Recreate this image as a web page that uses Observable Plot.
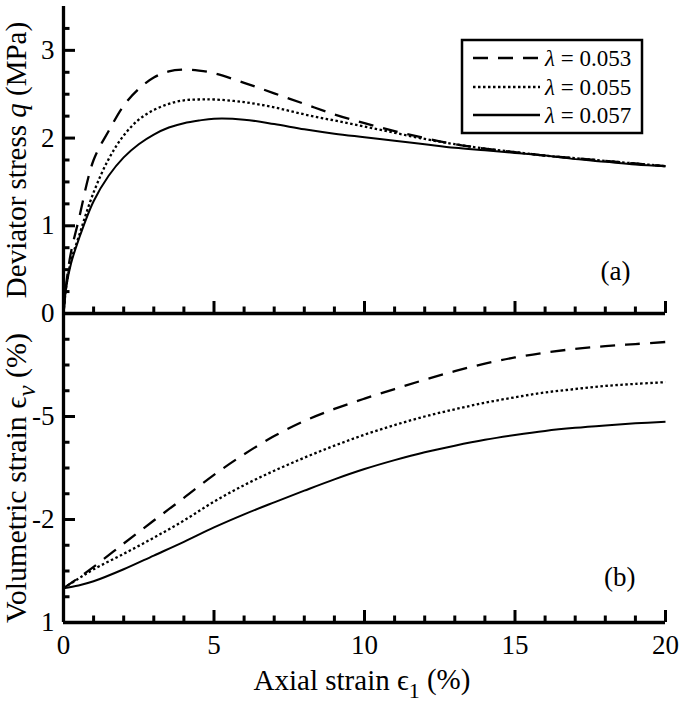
<!DOCTYPE html>
<html><head><meta charset="utf-8">
<script src="https://cdn.jsdelivr.net/npm/d3@7"></script>
<script src="https://cdn.jsdelivr.net/npm/@observablehq/plot@0.6"></script>
<style>
body{margin:0;background:#fff;}
#wrap{position:relative;width:685px;height:710px;font-family:"Liberation Serif","Times New Roman",serif;color:#000;}
#wrap svg{position:absolute;left:0;background:transparent;overflow:visible;}
</style></head><body><div id="wrap"></div>
<script>
// ---------- data ----------
const seriesNames = ["λ = 0.053", "λ = 0.055", "λ = 0.057"];
const seriesLambda = ["0.053", "0.055", "0.057"];
const seriesDash = ["15,10", "2.5,2.5", null];

// (a) deviator stress q (MPa) vs axial strain (%)
const strainA = [0, 0.1, 0.25, 0.5, 1, 1.5, 2, 2.5, 3, 3.5, 4, 4.5, 5, 6, 7, 8, 9, 10, 11, 12, 13, 14, 15, 16, 17, 18, 19, 20];
const qL053 = [0, 0.36, 0.70, 1.06, 1.75, 2.08, 2.37, 2.56, 2.69, 2.76, 2.78, 2.77, 2.74, 2.63, 2.51, 2.39, 2.27, 2.17, 2.08, 2.00, 1.93, 1.88, 1.84, 1.80, 1.77, 1.74, 1.71, 1.68];
const qL055 = [0, 0.33, 0.60, 0.87, 1.38, 1.76, 2.03, 2.21, 2.32, 2.39, 2.43, 2.44, 2.44, 2.41, 2.35, 2.27, 2.20, 2.13, 2.06, 1.99, 1.93, 1.88, 1.84, 1.80, 1.77, 1.74, 1.71, 1.68];
const qL057 = [0, 0.32, 0.57, 0.84, 1.28, 1.57, 1.78, 1.93, 2.04, 2.12, 2.17, 2.20, 2.22, 2.21, 2.16, 2.10, 2.05, 2.01, 1.97, 1.93, 1.89, 1.86, 1.83, 1.80, 1.76, 1.73, 1.70, 1.68];

// (b) volumetric strain (%) vs axial strain (%)
const strainB = [0, 0.5, 1, 2, 3, 4, 5, 6, 7, 8, 9, 10, 11, 12, 13, 14, 15, 16, 17, 18, 19, 20];
const evL053 = [0, -0.30, -0.62, -1.30, -1.97, -2.63, -3.30, -3.90, -4.43, -4.87, -5.22, -5.52, -5.80, -6.07, -6.32, -6.54, -6.72, -6.86, -6.97, -7.05, -7.11, -7.17];
const evL055 = [0, -0.28, -0.55, -1.00, -1.47, -1.97, -2.52, -3.00, -3.42, -3.80, -4.15, -4.47, -4.75, -5.00, -5.21, -5.40, -5.56, -5.70, -5.80, -5.89, -5.95, -6.00];
const evL057 = [0, -0.08, -0.20, -0.55, -0.95, -1.35, -1.77, -2.15, -2.50, -2.84, -3.17, -3.47, -3.73, -3.96, -4.15, -4.32, -4.46, -4.58, -4.67, -4.74, -4.80, -4.85];

// ticks
const xMajor = [0, 5, 10, 15, 20];
const xMinor = [1, 2, 3, 4, 6, 7, 8, 9, 11, 12, 13, 14, 16, 17, 18, 19];
const qMajor = [0, 1, 2, 3];
const qMinor = [0.25, 0.5, 0.75, 1.25, 1.5, 1.75, 2.25, 2.5, 2.75, 3.25];
const evMajor = [1, -2, -5, -8];
const evLabels = [1, -2, -5];
const evMinor = [0.25, -0.5, -1.25, -2.75, -3.5, -4.25, -5.75, -6.5, -7.25];

// ---------- build tables ----------
const qSets = [qL053, qL055, qL057];
const evSets = [evL053, evL055, evL057];
const tableA = seriesNames.map((s, i) => strainA.map((x, j) => ({x, y: qSets[i][j], s})));
const tableB = seriesNames.map((s, i) => strainB.map((x, j) => ({x, y: evSets[i][j], s})));

const FONT = "'Liberation Serif', 'Times New Roman', serif";
const W = 685, ML = 63, MR = 20;
const xDomain = [0, 20];
const pxPerX = (W - ML - MR) / 20;
const tickLenX = (p) => p / pxPerX;

function curveMarks(tables) {
  return tables.map((t, i) => Plot.line(t, {
    x: "x", y: "y", curve: "catmull-rom", stroke: "black",
    strokeWidth: i === 2 ? 2 : 2.3,
    strokeDasharray: seriesDash[i] || undefined,
    strokeLinecap: "butt"
  }));
}

// ---- top panel ----
const HA = 330, MTA = 6, MBA = 17;
const qDomain = [0, 3.5];
const pxPerQ = (HA - MTA - MBA) / (qDomain[1] - qDomain[0]);
const topSvg = Plot.plot({
  width: W, height: HA, marginLeft: ML, marginRight: MR, marginTop: MTA, marginBottom: MBA,
  style: {background: "transparent", overflow: "visible", fontFamily: FONT, color: "black"},
  x: {domain: xDomain, axis: null},
  y: {domain: qDomain},
  marks: [
    ...curveMarks(tableA),
    Plot.ruleY(qMajor, {y: d => d, x1: 0, x2: tickLenX(12), strokeWidth: 3}),
    Plot.ruleY(qMinor, {y: d => d, x1: 0, x2: tickLenX(6.5), strokeWidth: 3}),
    Plot.ruleX(xMajor, {x: d => d, y1: 0, y2: 12 / pxPerQ, strokeWidth: 3}),
    Plot.ruleX(xMinor, {x: d => d, y1: 0, y2: 6.5 / pxPerQ, strokeWidth: 3}),
    Plot.ruleX([0], {strokeWidth: 3.3}),
    Plot.ruleY([0], {strokeWidth: 3.3}),
    Plot.axisY({ticks: qMajor, tickSize: 0, tickPadding: 9, fontSize: 27, fontFamily: FONT, tickFormat: d => String(d), label: null}),
    Plot.text(["(a)"], {frameAnchor: "bottom-right", dx: -35, dy: -42, lineAnchor: "middle", textAnchor: "end", fontSize: 27, fontFamily: FONT})
  ]
});

// ---- bottom panel ----
const HB = 397, MTB = 0, MBB = 88;
const evDomain = [1, -8];
const pxPerEv = (HB - MTB - MBB) / 9;
const botSvg = Plot.plot({
  width: W, height: HB, marginLeft: ML, marginRight: MR, marginTop: MTB, marginBottom: MBB,
  style: {background: "transparent", overflow: "visible", fontFamily: FONT, color: "black"},
  x: {domain: xDomain},
  y: {domain: evDomain},
  marks: [
    ...curveMarks(tableB),
    Plot.ruleY(evMajor, {y: d => d, x1: 0, x2: tickLenX(12), strokeWidth: 3}),
    Plot.ruleY(evMinor, {y: d => d, x1: 0, x2: tickLenX(6.5), strokeWidth: 3}),
    Plot.ruleX(xMajor, {x: d => d, y1: 1, y2: 1 - 12 / pxPerEv, strokeWidth: 3}),
    Plot.ruleX(xMinor, {x: d => d, y1: 1, y2: 1 - 6.5 / pxPerEv, strokeWidth: 3}),
    Plot.ruleX([0], {strokeWidth: 3.3}),
    Plot.ruleY([1], {strokeWidth: 3.3}),
    Plot.axisY({ticks: evLabels, tickSize: 0, tickPadding: 9, fontSize: 27, fontFamily: FONT, tickFormat: d => String(d), label: null}),
    Plot.axisX({ticks: xMajor, tickSize: 0, tickPadding: 12, fontSize: 27, fontFamily: FONT, tickFormat: d => String(d), label: null}),
    Plot.text(["(b)"], {frameAnchor: "bottom-right", dx: -30, dy: -45, lineAnchor: "middle", textAnchor: "end", fontSize: 27, fontFamily: FONT})
  ]
});

const wrap = document.getElementById("wrap");
topSvg.style.top = "0px";
botSvg.style.top = (HA - MBA) + "px";
wrap.appendChild(topSvg);
wrap.appendChild(botSvg);

// ---- axis titles (rich text) ----
const tS = d3.select(topSvg), bS = d3.select(botSvg);
const t1 = tS.append("text").attr("transform", "translate(26,160) rotate(-90)")
  .attr("text-anchor", "middle").attr("font-size", 29).attr("font-family", FONT).attr("fill", "black");
t1.append("tspan").text("Deviator stress ");
t1.append("tspan").attr("font-style", "italic").text("q");
t1.append("tspan").text(" (MPa)");

const t2 = bS.append("text").attr("transform", "translate(26,165) rotate(-90)")
  .attr("text-anchor", "middle").attr("font-size", 30).attr("font-family", FONT).attr("fill", "black");
t2.append("tspan").text("Volumetric strain ");
t2.append("tspan").text("ϵ");
t2.append("tspan").attr("font-style", "italic").attr("font-size", 25).attr("dy", "0.35em").text("v");
t2.append("tspan").attr("dy", "-0.3em").text(" (%)");

const t3 = bS.append("text").attr("x", 362).attr("y", 377)
  .attr("text-anchor", "middle").attr("font-size", 29).attr("font-family", FONT).attr("fill", "black");
t3.append("tspan").text("Axial strain ");
t3.append("tspan").text("ϵ");
t3.append("tspan").attr("font-size", 22).attr("dy", "0.35em").text("1");
t3.append("tspan").attr("dy", "-0.3em").text(" (%)");

// ---- legend ----
const lg = tS.append("g");
lg.append("rect").attr("x", 462).attr("y", 40).attr("width", 180).attr("height", 93)
  .attr("fill", "white").attr("stroke", "black").attr("stroke-width", 2.5);
[58, 87, 115].forEach((cy, i) => {
  lg.append("line").attr("x1", 473).attr("x2", 540).attr("y1", cy).attr("y2", cy)
    .attr("stroke", "black").attr("stroke-width", 2.5)
    .attr("stroke-dasharray", seriesDash[i] || null);
  const tx = lg.append("text").attr("x", 545).attr("y", cy).attr("dy", "0.35em")
    .attr("text-anchor", "start")
    .attr("font-size", 23).attr("font-family", FONT).attr("fill", "black");
  tx.append("tspan").attr("font-style", "italic").text("λ");
  tx.append("tspan").text(" = " + seriesLambda[i]);
});
</script>
</body></html>
